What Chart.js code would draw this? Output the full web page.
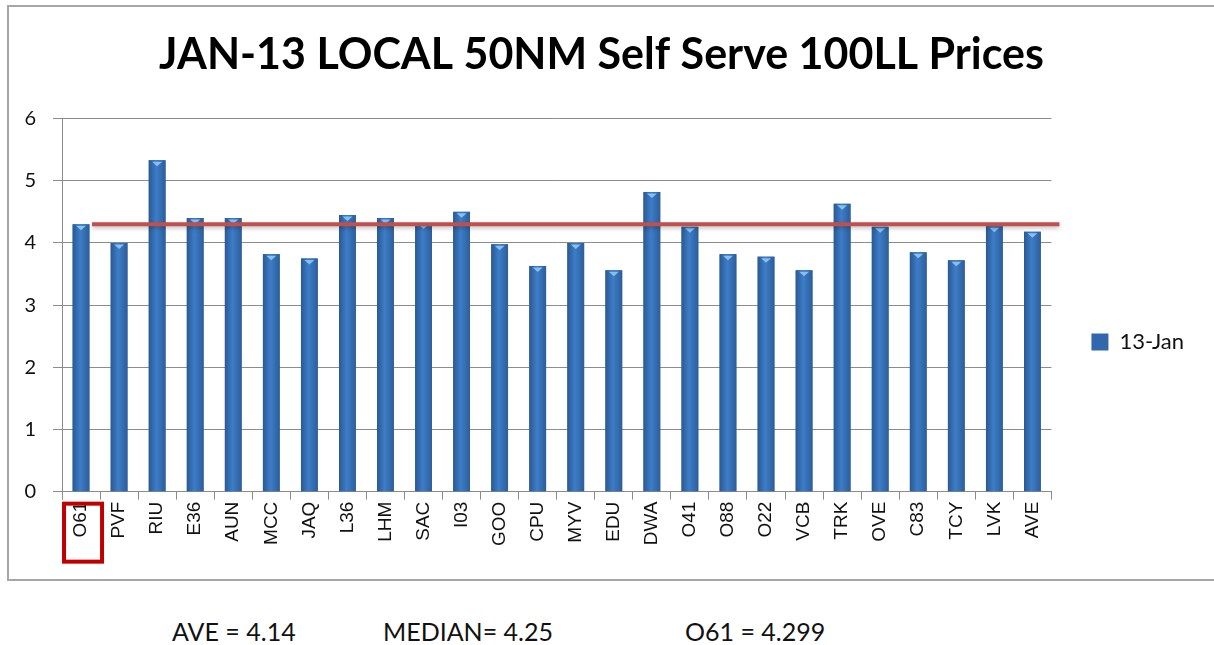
<!DOCTYPE html>
<html>
<head>
<meta charset="utf-8">
<script src="https://cdn.jsdelivr.net/npm/chart.js@4"></script>
<style>
  body { margin: 0; background: #fff; width: 1214px; height: 645px; overflow: hidden; position: relative; }
  #box { position: absolute; left: 7px; top: 5px; width: 1212px; height: 576px; border: 2px solid #a6a6a6; box-sizing: border-box; }
  #wrap { position: absolute; left: 9px; top: 7px; width: 1205px; height: 572px; }
  .stat { position: absolute; top: 616px; font-family: Lato, "Open Sans", sans-serif; font-size: 25px; color: #111; }
</style>
</head>
<body>
<div id="box"></div>
<div id="wrap"><canvas id="fuel"></canvas></div>
<div class="stat" style="left:172px">AVE = 4.14</div>
<div class="stat" style="left:383px">MEDIAN= 4.25</div>
<div class="stat" style="left:685px">O61 = 4.299</div>
<script>
const airports = ["O61", "PVF", "RIU", "E36", "AUN", "MCC", "JAQ", "L36", "LHM", "SAC", "I03", "GOO", "CPU",
  "MYV", "EDU", "DWA", "O41", "O88", "O22", "VCB", "TRK", "OVE", "C83", "TCY", "LVK", "AVE"];
const prices = [4.299, 4.00, 5.33, 4.40, 4.40, 3.82, 3.75, 4.45, 4.40, 4.32, 4.50, 3.98, 3.63,
  4.00, 3.56, 4.82, 4.26, 3.82, 3.78, 3.56, 4.63, 4.26, 3.85, 3.72, 4.27, 4.18];
const yTicks = [0, 1, 2, 3, 4, 5, 6];
const o61Price = 4.299;

// bar shading, little triangle caps, the O61 reference line and the red label box
const decorations = {
  id: "decorations",
  afterDatasetsDraw(chart) {
    const c = chart.ctx;
    const meta = chart.getDatasetMeta(0);
    meta.data.forEach((bar) => {
      const w = bar.width, l = bar.x - w / 2;
      const g = c.createLinearGradient(l, 0, l + w, 0);
      g.addColorStop(0, "#2a5992");
      g.addColorStop(0.45, "#3d7dc8");
      g.addColorStop(1, "#2c5e9a");
      c.fillStyle = g;
      c.fillRect(l, bar.y, w, bar.base - bar.y);
      c.fillStyle = "#86c0f0";
      c.beginPath();
      c.moveTo(bar.x - 5, bar.y + 1.5);
      c.lineTo(bar.x + 5, bar.y + 1.5);
      c.lineTo(bar.x, bar.y + 6);
      c.closePath();
      c.fill();
    });
    const x = chart.scales.x, y = chart.scales.y;
    const ly = y.getPixelForValue(o61Price);
    c.save();
    c.shadowColor = "rgba(0,0,0,0.25)";
    c.shadowBlur = 4;
    c.shadowOffsetY = 2;
    c.strokeStyle = "#c0504d";
    c.lineWidth = 4;
    c.beginPath();
    c.moveTo(x.getPixelForValue(0) + 11, ly);
    c.lineTo(chart.chartArea.right + 8, ly);
    c.stroke();
    c.restore();
    const cx = x.getPixelForValue(0);
    c.strokeStyle = "#c00000";
    c.lineWidth = 4;
    c.strokeRect(cx - 17, chart.chartArea.bottom + 12, 38, 58);
  }
};

new Chart(document.getElementById("fuel"), {
  type: "bar",
  data: {
    labels: airports,
    datasets: [{
      label: "13-Jan",
      data: prices,
      backgroundColor: "#3168ad",
      barPercentage: 0.9,
      categoryPercentage: 0.49,
    }],
  },
  options: {
    responsive: true,
    maintainAspectRatio: false,
    animation: false,
    layout: { padding: { left: 0, right: 20, top: 0, bottom: 31 } },
    plugins: {
      title: {
        display: true,
        text: "JAN-13 LOCAL 50NM Self Serve 100LL Prices",
        color: "#000",
        font: { family: "Lato", size: 43, weight: "bold" },
        padding: { top: 22, bottom: 38 },
      },
      legend: {
        position: "right",
        title: { display: true, text: " ", font: { size: 10 }, padding: { top: 117, bottom: 0 } },
        labels: {
          color: "#111",
          font: { family: "Lato", size: 22 },
          boxWidth: 17,
          boxHeight: 17,
          padding: 40,
        },
      },
      tooltip: { enabled: false },
    },
    scales: {
      x: {
        grid: { offset: true, drawOnChartArea: false, color: "#8c8c8c", tickLength: 8 },
        border: { color: "#8c8c8c" },
        ticks: {
          color: "#111",
          font: { family: "Liberation Sans", size: 19 },
          minRotation: 90,
          maxRotation: 90,
          padding: 2,
        },
      },
      y: {
        min: 0,
        max: 6,
        afterBuildTicks: (s) => { s.ticks = yTicks.map((v) => ({ value: v })); },
        afterFit: (s) => { s.width = 53; },
        grid: { color: "#8c8c8c", tickLength: 9 },
        border: { color: "#8c8c8c" },
        ticks: {
          color: "#111",
          font: { family: "Lato", size: 20 },
          padding: 17,
        },
      },
    },
  },
  plugins: [decorations],
});
</script>
</body>
</html>
